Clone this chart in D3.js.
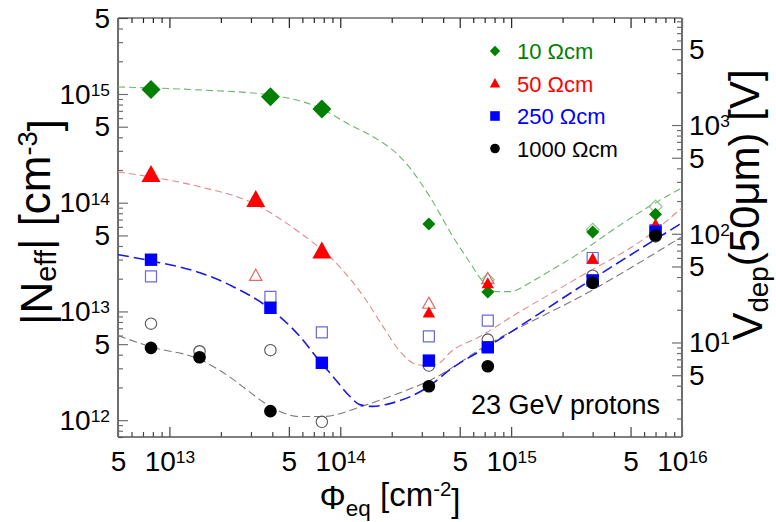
<!DOCTYPE html>
<html>
<head>
<meta charset="utf-8">
<script src="https://cdn.jsdelivr.net/npm/d3@7"></script>
<style>
  body { margin: 0; background: #fff; }
  svg { display: block; font-family: "Liberation Sans", Arial, sans-serif; }
</style>
</head>
<body>
<svg id="chart" width="776" height="522"></svg>
<script>
// ---- axis domains ----
const fluenceDomain = [5e12, 1e16];     // Φeq [cm^-2]
const neffDomain = [7e11, 5e15];        // |Neff| [cm^-3]
const voltsPerNeff = 1.93e-12;          // Vdep for 50 µm = q·Neff·d²/(2ε)

// ---- measured points, 10 Ωcm ----
const phi10 = [7.8e12, 3.9e13, 7.8e13, 3.3e14, 7.3e14, 3.0e15, 7.0e15];
const n10   = [1.10e15, 9.45e14, 7.28e14, 6.37e13, 1.51e13, 5.37e13, 7.85e13];
const phi10Open = [7.3e14, 3.0e15, 7.0e15];
const n10Open   = [1.96e13, 5.64e13, 9.22e13];

// ---- measured points, 50 Ωcm ----
const phi50 = [7.8e12, 3.2e13, 7.8e13, 3.3e14, 7.3e14, 3.0e15, 7.0e15];
const n50   = [1.80e14, 1.06e14, 3.56e13, 9.69e12, 1.80e13, 3.03e13, 6.27e13];
const phi50Open = [3.2e13, 3.3e14, 7.3e14];
const n50Open   = [2.13e13, 1.18e13, 1.99e13];

// ---- measured points, 250 Ωcm ----
const phi250 = [7.8e12, 3.9e13, 7.8e13, 3.3e14, 7.3e14, 3.0e15, 7.0e15];
const n250   = [2.99e13, 1.08e13, 3.37e12, 3.53e12, 4.68e12, 1.93e13, 5.43e13];
const phi250Open = [7.8e12, 3.9e13, 7.8e13, 3.3e14, 7.3e14, 3.0e15, 7.0e15];
const n250Open   = [2.10e13, 1.36e13, 6.43e12, 5.90e12, 8.24e12, 3.10e13, 5.60e13];

// ---- measured points, 1000 Ωcm ----
const phi1000 = [7.8e12, 1.5e13, 3.9e13, 3.3e14, 7.3e14, 3.0e15, 7.0e15];
const n1000   = [4.62e12, 3.79e12, 1.21e12, 2.05e12, 3.13e12, 1.83e13, 5.00e13];
const phi1000Open = [7.8e12, 1.5e13, 3.9e13, 7.8e13, 3.3e14, 7.3e14, 3.0e15, 7.0e15];
const n1000Open   = [7.72e12, 4.30e12, 4.40e12, 9.66e11, 3.18e12, 5.51e12, 2.13e13, 4.90e13];

// ---- fitted curves ----
const fit10Phi = [5e12, 1.5e13, 3.9e13, 7.8e13, 1.14e14, 1.49e14, 2.33e14, 3.35e14, 4.57e14, 5.74e14, 6.84e14, 8.26e14, 9.84e14, 1.29e15, 1.62e15, 2.53e15, 3.95e15, 6.24e15, 1e16];
const fit10N   = [1.16e15, 1.09e15, 9.8e14, 7.28e14, 5.19e14, 4.2e14, 2.48e14, 1.13e14, 4.86e13, 2.81e13, 1.88e13, 1.52e13, 1.52e13, 1.84e13, 2.27e13, 3.47e13, 5.64e13, 8.98e13, 1.37e14];
const fit50Phi = [5e12, 1.51e13, 2.96e13, 5.81e13, 9.06e13, 1.41e14, 1.78e14, 2.24e14, 2.81e14, 3.35e14, 3.84e14, 4.39e14, 6.57e14, 1.03e15, 2.53e15, 6.24e15, 1e16];
const fit50N   = [1.92e14, 1.4e14, 1.02e14, 5.29e13, 2.99e13, 1.28e13, 7.25e12, 4.27e12, 3.25e12, 3.18e12, 3.39e12, 4.19e12, 5.88e12, 9.14e12, 2.09e13, 4.87e13, 8.98e13];
const fit250Phi = [5e12, 7.69e12, 1.51e13, 2.36e13, 3.72e13, 5.81e13, 7.6e13, 9.06e13, 1.14e14, 1.3e14, 1.55e14, 1.95e14, 3.35e14, 4.39e14, 7.22e14, 3.01e15, 1e16];
const fit250N   = [3.33e13, 2.93e13, 2.27e13, 1.69e13, 1.11e13, 5.88e12, 3.46e12, 2.52e12, 1.65e12, 1.39e12, 1.34e12, 1.42e12, 2.08e12, 2.92e12, 4.7e12, 2.0e13, 6.53e13];
const fit1000Phi = [5e12, 7.69e12, 1.51e13, 2.36e13, 2.97e13, 3.88e13, 5.81e13, 7.82e13, 1.43e14, 2.24e14, 3.35e14, 7.22e14, 3.01e15, 1e16];
const fit1000N   = [6.0e12, 4.75e12, 3.61e12, 2.37e12, 1.8e12, 1.34e12, 1.08e12, 1.08e12, 1.39e12, 1.79e12, 2.32e12, 4.9e12, 1.58e13, 4.87e13];

// ---- legend ----
const legendLabels = ["10 Ωcm", "50 Ωcm", "250 Ωcm", "1000 Ωcm"];
const annotation = "23 GeV protons";

// ---- layout ----
const svg = d3.select("#chart");
const plot = { left: 118, top: 18, right: 682, bottom: 437 };

const x = d3.scaleLog().domain(fluenceDomain).range([plot.left, plot.right]);
const y = d3.scaleLog().domain(neffDomain).range([plot.bottom, plot.top]);
const yV = d3.scaleLog().domain(neffDomain.map(n => n * voltsPerNeff)).range([plot.bottom, plot.top]);

function mantissa(v) {
  const e = Math.floor(Math.log10(v) + 1e-9);
  return { m: Math.round(v / Math.pow(10, e)), e };
}
const isLabeled = v => { const k = mantissa(v).m; return k === 1 || k === 5; };

function supLabel(sel, v) {
  const { m, e } = mantissa(v);
  sel.text(null);
  if (m === 1) {
    sel.append("tspan").text("10");
    sel.append("tspan").attr("dy", "-0.45em").attr("font-size", "0.62em").text(e);
  } else {
    sel.text(m);
  }
}

const frameColor = "#6e6e6e";
const tickFont = 28;

// ---- axes ----
function styleAxis(g, color) {
  g.select(".domain").remove();
  g.selectAll(".tick line").attr("stroke", color).attr("stroke-width", 1.2);
}

const xTicks = x.ticks();
const yTicks = y.ticks();
const vTicks = yV.ticks();

// bottom
const gxMinor = svg.append("g").attr("transform", `translate(0,${plot.bottom})`)
  .call(d3.axisBottom(x).tickValues(xTicks.filter(v => !isLabeled(v))).tickSize(-5).tickFormat(""));
styleAxis(gxMinor, "#444");
const gx = svg.append("g").attr("transform", `translate(0,${plot.bottom})`)
  .call(d3.axisBottom(x).tickValues(xTicks.filter(isLabeled)).tickSize(-10).tickFormat(""));
styleAxis(gx, "#444");
gx.selectAll(".tick text")
  .attr("y", 34).attr("dy", null)
  .attr("fill", "#000").attr("font-size", tickFont)
  .attr("text-anchor", "middle")
  .each(function (d) { supLabel(d3.select(this), d); });

// top (mirror ticks, no labels)
const gxTopMinor = svg.append("g").attr("transform", `translate(0,${plot.top})`)
  .call(d3.axisTop(x).tickValues(xTicks.filter(v => !isLabeled(v))).tickSize(-5).tickFormat(""));
styleAxis(gxTopMinor, "#222");
const gxTop = svg.append("g").attr("transform", `translate(0,${plot.top})`)
  .call(d3.axisTop(x).tickValues(xTicks.filter(isLabeled)).tickSize(-10).tickFormat(""));
styleAxis(gxTop, "#222");

// left
const gyMinor = svg.append("g").attr("transform", `translate(${plot.left},0)`)
  .call(d3.axisLeft(y).tickValues(yTicks.filter(v => !isLabeled(v))).tickSize(-5).tickFormat(""));
styleAxis(gyMinor, frameColor);
const gy = svg.append("g").attr("transform", `translate(${plot.left},0)`)
  .call(d3.axisLeft(y).tickValues(yTicks.filter(isLabeled)).tickSize(-10).tickFormat(""));
styleAxis(gy, frameColor);
gy.selectAll(".tick text")
  .attr("x", -8).attr("dy", "0.33em")
  .attr("fill", "#000").attr("font-size", tickFont)
  .attr("text-anchor", "end")
  .each(function (d) { supLabel(d3.select(this), d); });

// right (depletion voltage)
const gvMinor = svg.append("g").attr("transform", `translate(${plot.right},0)`)
  .call(d3.axisRight(yV).tickValues(vTicks.filter(v => !isLabeled(v))).tickSize(-5).tickFormat(""));
styleAxis(gvMinor, frameColor);
const gv = svg.append("g").attr("transform", `translate(${plot.right},0)`)
  .call(d3.axisRight(yV).tickValues(vTicks.filter(isLabeled)).tickSize(-10).tickFormat(""));
styleAxis(gv, frameColor);
gv.selectAll(".tick text")
  .attr("x", 7).attr("dy", "0.33em")
  .attr("fill", "#000").attr("font-size", tickFont)
  .attr("text-anchor", "start")
  .each(function (d) { supLabel(d3.select(this), d); });

// frame
svg.append("line").attr("x1", plot.left).attr("x2", plot.right).attr("y1", plot.top).attr("y2", plot.top)
  .attr("stroke", "#222").attr("stroke-width", 1.2);
svg.append("line").attr("x1", plot.left).attr("x2", plot.right).attr("y1", plot.bottom).attr("y2", plot.bottom)
  .attr("stroke", "#555").attr("stroke-width", 1.5);
svg.append("line").attr("x1", plot.left).attr("x2", plot.left).attr("y1", plot.top).attr("y2", plot.bottom)
  .attr("stroke", frameColor).attr("stroke-width", 2);
svg.append("line").attr("x1", plot.right).attr("x2", plot.right).attr("y1", plot.top).attr("y2", plot.bottom)
  .attr("stroke", frameColor).attr("stroke-width", 2);

// ---- clip ----
svg.append("defs").append("clipPath").attr("id", "clip")
  .append("rect").attr("x", plot.left).attr("y", plot.top)
  .attr("width", plot.right - plot.left).attr("height", plot.bottom - plot.top);
const area = svg.append("g").attr("clip-path", "url(#clip)");

// ---- fit lines ----
const line = d3.line().x(d => x(d[0])).y(d => y(d[1])).curve(d3.curveMonotoneX);
const fits = [
  { phi: fit10Phi, n: fit10N, color: "#6fb46f", width: 1.1, dash: "7,4" },
  { phi: fit50Phi, n: fit50N, color: "#e08a8a", width: 1.1, dash: "7,4" },
  { phi: fit1000Phi, n: fit1000N, color: "#7a7a7a", width: 1.1, dash: "8,4" },
  { phi: fit250Phi, n: fit250N, color: "#1a1ae0", width: 1.6, dash: "11,5" }
];
fits.forEach(f => {
  area.append("path").datum(d3.zip(f.phi, f.n))
    .attr("d", line).attr("fill", "none")
    .attr("stroke", f.color).attr("stroke-width", f.width)
    .attr("stroke-dasharray", f.dash);
});

// ---- marker shapes ----
const shapes = {
  diamond: r => `M0,${-r}L${r},0L0,${r}L${-r},0Z`,
  triangle: r => `M0,${-r * 1.05}L${r},${r * 0.75}L${-r},${r * 0.75}Z`,
  square: r => `M${-r},${-r}H${r}V${r}H${-r}Z`,
  circle: r => `M${r},0A${r},${r} 0 1,1 ${-r},0A${r},${r} 0 1,1 ${r},0Z`
};

function drawMarkers(phi, n, shape, sizeFn, fill, stroke, sw) {
  area.append("g").selectAll("path")
    .data(d3.zip(phi, n))
    .join("path")
    .attr("transform", d => `translate(${x(d[0])},${y(d[1])})`)
    .attr("d", d => shapes[shape](sizeFn(d)))
    .attr("fill", fill)
    .attr("stroke", stroke)
    .attr("stroke-width", sw);
}

// open symbols underneath
drawMarkers(phi10Open, n10Open, "diamond", () => 6.5, "none", "#8cc88c", 1.2);
drawMarkers(phi50Open, n50Open, "triangle", () => 6.2, "none", "#e06a6a", 1.2);
drawMarkers(phi250Open, n250Open, "square", () => 5.5, "none", "#6a6ad6", 1.2);
drawMarkers(phi1000Open, n1000Open, "circle", () => 5.7, "none", "#555", 1.1);

// filled symbols; the low-fluence 10 and 50 Ωcm points are drawn larger
drawMarkers(phi10, n10, "diamond", d => d[0] < 1e14 ? 9.5 : 6.5, "#008000", "none", 0);
drawMarkers(phi50, n50, "triangle", d => d[0] < 1e14 ? 9.5 : 6.2, "#ff0000", "none", 0);
drawMarkers(phi250, n250, "square", () => 6.2, "#0000ff", "none", 0);
drawMarkers(phi1000, n1000, "circle", () => 6.3, "#000000", "none", 0);

// ---- legend ----
const legendShapes = ["diamond", "triangle", "square", "circle"];
const legendSizes = [5.2, 5.2, 4.8, 4.8];
const legendColors = ["#008000", "#ff0000", "#0000ff", "#000000"];
const legend = svg.append("g").attr("transform", "translate(495,51)");
legendLabels.forEach((lab, i) => {
  const row = legend.append("g").attr("transform", `translate(0,${i * 32.5})`);
  row.append("path").attr("d", shapes[legendShapes[i]](legendSizes[i])).attr("fill", legendColors[i]);
  row.append("text").attr("x", 22).attr("y", 8).attr("font-size", 22)
    .attr("fill", legendColors[i]).text(lab);
});

// ---- annotation ----
svg.append("text").attr("x", 471).attr("y", 414).attr("font-size", 27).attr("fill", "#000").text(annotation);

// ---- axis titles ----
const xt = svg.append("text").attr("x", 390).attr("y", 509).attr("text-anchor", "middle")
  .attr("font-size", 33).attr("fill", "#000");
xt.append("tspan").text("Φ");
xt.append("tspan").attr("dy", "0.3em").attr("font-size", "0.68em").text("eq");
xt.append("tspan").attr("dy", "-0.3em").text(" [cm");
xt.append("tspan").attr("dy", "-0.5em").attr("font-size", "0.62em").text("-2");
xt.append("tspan").attr("dy", "0.5em").text("]");

const yt = svg.append("text").attr("transform", "translate(52,222) rotate(-90)")
  .attr("text-anchor", "middle").attr("font-size", 44).attr("fill", "#000");
yt.append("tspan").text("|N");
yt.append("tspan").attr("dy", "0.12em").attr("font-size", "0.66em").text("eff");
yt.append("tspan").attr("dy", "-0.12em").text("| [cm");
yt.append("tspan").attr("dy", "-0.5em").attr("font-size", "0.62em").text("-3");
yt.append("tspan").attr("dy", "0.5em").text("]");

const vt = svg.append("text").attr("transform", "translate(762,205) rotate(-90)")
  .attr("text-anchor", "middle").attr("font-size", 42).attr("fill", "#000");
vt.append("tspan").text("V");
vt.append("tspan").attr("dy", "0.2em").attr("font-size", "0.66em").text("dep");
vt.append("tspan").attr("dy", "-0.2em").text("(50μm) [V]");
</script>
</body>
</html>
